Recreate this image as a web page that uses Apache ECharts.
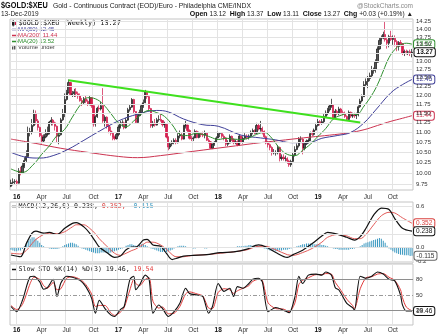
<!DOCTYPE html>
<html>
<head>
<meta charset="utf-8">
<title>$GOLD:$XEU weekly</title>
<script src="https://cdn.jsdelivr.net/npm/echarts@6.0.0/dist/echarts.min.js"></script>
<style>
  html, body { margin: 0; padding: 0; background: #fff; }
  #chart { width: 443px; height: 336px; }
</style>
</head>
<body>
<div id="chart"></div>
<script>
// Weekly bars of $GOLD:$XEU, each week ending on a Friday.
const firstWeek = '2015-12-11';
const weekCount = 210;

// Quarter marks on the time axis (week index -> label).
const tickWeeks  = [3, 16, 29, 43, 56, 69, 82, 95, 108, 121, 134, 147, 160, 173, 186, 199];
const tickLabels = ['16', 'Apr', 'Jul', 'Oct', '17', 'Apr', 'Jul', 'Oct', '18', 'Apr', 'Jul', 'Oct', '19', 'Apr', 'Jul', 'Oct'];

const opens = [
  9.70, 9.78, 9.80, 9.81, 9.77, 10.05, 10.00, 10.17, 10.30, 10.40,
  11.00, 11.02, 11.18, 11.50, 11.30, 11.13, 10.92, 10.78, 10.88, 10.95,
  10.97, 11.27, 11.32, 11.25, 11.16, 10.90, 10.94, 11.33, 11.50, 11.88,
  12.07, 12.36, 12.02, 12.04, 12.10, 12.04, 11.98, 11.85, 11.79, 11.90,
  11.83, 11.74, 11.93, 11.71, 11.22, 11.41, 11.64, 11.62, 11.71, 11.30,
  11.40, 11.17, 11.04, 10.98, 10.88, 10.84, 10.95, 11.14, 11.24, 11.25,
  11.12, 11.32, 11.60, 11.67, 11.88, 11.55, 11.26, 11.44, 11.52, 11.71,
  11.79, 12.10, 11.96, 11.63, 11.17, 11.24, 11.19, 11.33, 11.34, 11.31,
  11.20, 11.21, 10.88, 10.63, 10.71, 10.75, 10.80, 10.74, 10.91, 10.93,
  10.83, 11.17, 11.19, 11.05, 10.85, 10.84, 10.86, 11.03, 10.87, 10.97,
  10.94, 10.93, 10.98, 10.80, 10.76, 10.60, 10.70, 10.75, 10.86, 10.97,
  10.97, 10.90, 10.86, 10.70, 10.73, 10.90, 10.82, 10.74, 10.76, 10.68,
  10.91, 10.75, 10.85, 10.91, 10.87, 10.91, 11.00, 11.05, 10.98, 11.18,
  11.09, 11.10, 11.03, 10.89, 10.73, 10.69, 10.62, 10.49, 10.49, 10.49,
  10.62, 10.35, 10.38, 10.35, 10.35, 10.29, 10.20, 10.28, 10.44, 10.57,
  10.66, 10.83, 10.83, 10.60, 10.71, 10.78, 10.80, 10.97, 10.95, 11.06,
  11.18, 11.28, 11.24, 11.28, 11.42, 11.51, 11.60, 11.70, 11.72, 11.38,
  11.56, 11.49, 11.62, 11.52, 11.50, 11.42, 11.34, 11.53, 11.43, 11.45,
  11.44, 11.46, 11.68, 11.84, 11.96, 12.30, 12.39, 12.48, 12.56, 12.71,
  12.75, 12.96, 13.37, 13.64, 13.71, 13.83, 13.66, 13.55, 13.76, 13.67,
  13.71, 13.60, 13.45, 13.57, 13.53, 13.24, 13.29, 13.27, 13.28, 13.24
];
const closes = [
  9.78, 9.80, 9.81, 9.77, 10.05, 10.00, 10.17, 10.30, 10.40, 11.00,
  11.02, 11.18, 11.50, 11.30, 11.13, 10.92, 10.78, 10.88, 10.95, 10.97,
  11.27, 11.32, 11.25, 11.16, 10.90, 10.94, 11.33, 11.50, 11.88, 12.07,
  12.36, 12.02, 12.04, 12.10, 12.04, 11.98, 11.85, 11.79, 11.90, 11.83,
  11.74, 11.93, 11.71, 11.22, 11.41, 11.64, 11.62, 11.71, 11.30, 11.40,
  11.17, 11.04, 10.98, 10.88, 10.84, 10.95, 11.14, 11.24, 11.25, 11.12,
  11.32, 11.60, 11.67, 11.88, 11.55, 11.26, 11.44, 11.52, 11.71, 11.79,
  12.10, 11.96, 11.63, 11.17, 11.24, 11.19, 11.33, 11.34, 11.31, 11.20,
  11.21, 10.88, 10.63, 10.71, 10.75, 10.80, 10.74, 10.91, 10.93, 10.83,
  11.17, 11.19, 11.05, 10.85, 10.84, 10.86, 11.03, 10.87, 10.97, 10.94,
  10.93, 10.98, 10.80, 10.76, 10.60, 10.70, 10.75, 10.86, 10.97, 10.97,
  10.90, 10.86, 10.70, 10.73, 10.90, 10.82, 10.74, 10.76, 10.68, 10.91,
  10.75, 10.85, 10.91, 10.87, 10.91, 11.00, 11.05, 10.98, 11.18, 11.09,
  11.10, 11.03, 10.89, 10.73, 10.69, 10.62, 10.49, 10.49, 10.49, 10.62,
  10.35, 10.38, 10.35, 10.35, 10.29, 10.20, 10.28, 10.44, 10.57, 10.66,
  10.83, 10.83, 10.60, 10.71, 10.78, 10.80, 10.97, 10.95, 11.06, 11.18,
  11.28, 11.24, 11.28, 11.42, 11.51, 11.60, 11.70, 11.72, 11.38, 11.56,
  11.49, 11.62, 11.52, 11.50, 11.42, 11.34, 11.53, 11.43, 11.45, 11.44,
  11.46, 11.68, 11.84, 11.96, 12.30, 12.39, 12.48, 12.56, 12.71, 12.75,
  12.96, 13.37, 13.64, 13.71, 13.83, 13.66, 13.55, 13.76, 13.67, 13.71,
  13.60, 13.45, 13.57, 13.53, 13.24, 13.29, 13.27, 13.28, 13.24, 13.27
];
const highs = [
  9.85, 9.88, 9.86, 9.85, 10.12, 10.15, 10.25, 10.38, 10.55, 11.15,
  11.12, 11.35, 11.60, 11.58, 11.35, 11.15, 10.98, 10.95, 11.08, 11.15,
  11.30, 11.40, 11.35, 11.28, 11.18, 11.00, 11.38, 11.62, 12.05, 12.15,
  12.45, 12.38, 12.12, 12.18, 12.20, 12.10, 12.05, 11.92, 11.95, 11.98,
  11.88, 11.98, 11.95, 11.72, 11.45, 11.68, 11.72, 11.82, 12.20, 11.45,
  11.42, 11.25, 11.15, 11.02, 10.92, 11.00, 11.20, 11.30, 11.32, 11.28,
  11.38, 11.65, 11.75, 11.92, 11.90, 11.56, 11.50, 11.60, 11.76, 11.88,
  12.15, 12.12, 11.98, 11.65, 11.30, 11.35, 11.38, 11.45, 11.48, 11.32,
  11.28, 11.22, 10.90, 10.75, 10.80, 10.85, 10.85, 10.98, 11.05, 10.98,
  11.20, 11.30, 11.20, 11.08, 10.92, 10.90, 11.08, 11.05, 11.02, 11.00,
  11.02, 11.05, 10.98, 10.85, 10.78, 10.72, 10.78, 10.90, 11.02, 11.00,
  11.00, 10.95, 10.88, 10.80, 10.95, 10.92, 10.85, 10.82, 10.80, 10.95,
  10.92, 10.90, 10.98, 10.95, 10.95, 11.05, 11.10, 11.08, 11.25, 11.22,
  11.30, 11.15, 11.05, 10.92, 10.78, 10.72, 10.65, 10.58, 10.55, 10.68,
  10.64, 10.45, 10.45, 10.42, 10.38, 10.32, 10.32, 10.50, 10.65, 10.72,
  10.88, 10.90, 10.85, 10.75, 10.82, 10.85, 11.02, 11.05, 11.10, 11.25,
  11.35, 11.32, 11.35, 11.48, 11.58, 11.65, 11.75, 11.90, 11.75, 11.62,
  11.60, 11.68, 11.65, 11.58, 11.55, 11.45, 11.58, 11.55, 11.52, 11.52,
  11.52, 11.72, 11.90, 12.02, 12.40, 12.48, 12.55, 12.65, 12.85, 12.80,
  13.05, 13.45, 13.72, 13.80, 13.92, 14.25, 13.75, 13.82, 13.95, 13.80,
  13.80, 13.65, 13.62, 13.65, 13.55, 13.35, 13.35, 13.32, 13.35, 13.37
];
const lows = [
  9.68, 9.72, 9.75, 9.72, 9.76, 9.95, 9.98, 10.12, 10.25, 10.38,
  10.90, 10.95, 11.15, 11.20, 11.05, 10.88, 10.72, 10.75, 10.85, 10.90,
  10.95, 11.18, 11.18, 11.05, 10.75, 10.70, 10.92, 11.30, 11.40, 11.85,
  12.05, 11.98, 11.95, 11.95, 11.95, 11.90, 11.82, 11.70, 11.75, 11.78,
  11.70, 11.72, 11.65, 11.15, 11.15, 11.38, 11.55, 11.58, 11.25, 11.15,
  11.10, 10.98, 10.92, 10.80, 10.80, 10.82, 10.90, 11.10, 11.15, 11.08,
  11.10, 11.30, 11.55, 11.65, 11.50, 11.22, 11.25, 11.42, 11.50, 11.65,
  11.78, 11.90, 11.58, 11.12, 11.12, 11.15, 11.18, 11.28, 11.28, 11.15,
  11.12, 10.85, 10.55, 10.58, 10.65, 10.70, 10.70, 10.72, 10.85, 10.80,
  10.82, 11.10, 11.00, 10.82, 10.78, 10.78, 10.85, 10.85, 10.85, 10.88,
  10.88, 10.85, 10.78, 10.72, 10.58, 10.58, 10.66, 10.74, 10.85, 10.88,
  10.85, 10.80, 10.65, 10.65, 10.72, 10.78, 10.70, 10.70, 10.65, 10.66,
  10.72, 10.72, 10.82, 10.82, 10.82, 10.88, 10.95, 10.95, 10.96, 11.05,
  11.02, 10.95, 10.85, 10.70, 10.62, 10.55, 10.42, 10.45, 10.42, 10.45,
  10.28, 10.30, 10.30, 10.28, 10.22, 10.15, 10.15, 10.25, 10.40, 10.55,
  10.62, 10.75, 10.45, 10.55, 10.68, 10.72, 10.78, 10.90, 10.92, 11.05,
  11.15, 11.18, 11.20, 11.22, 11.40, 11.45, 11.55, 11.65, 11.35, 11.35,
  11.45, 11.45, 11.48, 11.45, 11.38, 11.30, 11.32, 11.38, 11.38, 11.38,
  11.35, 11.42, 11.65, 11.80, 11.95, 12.25, 12.20, 12.40, 12.50, 12.62,
  12.65, 12.95, 13.35, 13.52, 13.68, 13.60, 13.38, 13.42, 13.62, 13.50,
  13.45, 13.30, 13.32, 13.45, 13.18, 13.15, 13.20, 13.18, 13.15, 13.11
];

const priceTicks = [9.75, 10.00, 10.25, 10.50, 10.75, 11.00, 11.25, 11.50, 11.75, 12.00,
                    12.25, 12.50, 12.75, 13.00, 13.25, 13.50, 13.75, 14.00, 14.25];

// Moving averages as [week index, value].
const ma20 = [[0,10.10],[6,10.02],[12,10.22],[16,10.45],[20,10.66],[24,10.92],[28,11.08],[32,11.40],
  [36,11.72],[40,11.93],[44,11.90],[48,11.75],[52,11.50],[56,11.25],[60,11.15],[64,11.30],[68,11.48],
  [72,11.58],[76,11.52],[80,11.42],[84,11.20],[88,10.95],[92,10.92],[96,10.97],[100,10.95],[104,10.88],
  [108,10.82],[112,10.85],[116,10.83],[120,10.82],[124,10.86],[128,10.95],[132,11.00],[136,10.85],
  [140,10.60],[144,10.45],[148,10.42],[152,10.55],[156,10.70],[160,10.90],[164,11.10],[168,11.35],
  [172,11.45],[176,11.50],[180,11.47],[184,11.70],[188,12.00],[191,12.30],[194,12.70],[197,13.10],
  [200,13.35],[203,13.50],[206,13.55],[209,13.52]];
const ma50 = [[0,10.50],[8,10.38],[15,10.36],[22,10.42],[30,10.58],[38,10.80],[46,11.03],[56,11.30],
  [66,11.48],[76,11.58],[82,11.54],[90,11.35],[100,11.20],[108,11.16],[120,10.93],[130,10.86],
  [138,10.81],[146,10.74],[155,10.74],[162,10.85],[170,10.92],[177,11.00],[184,11.25],[190,11.59],
  [198,12.07],[204,12.30],[209,12.45]];
const ma200 = [[0,10.83],[13,10.72],[26,10.60],[40,10.50],[56,10.40],[66,10.37],[78,10.42],[91,10.50],
  [104,10.58],[117,10.66],[130,10.74],[143,10.81],[156,10.88],[166,10.93],[176,10.99],[184,11.07],
  [191,11.18],[198,11.29],[204,11.37],[209,11.44]];

// Falling resistance line from the July 2016 high.
const trendLine = [[30, 12.43], [182, 11.26]];

// MACD(12,26,9)
const macdLine = [[0,-0.105],[5,-0.13],[8,0.06],[11,0.21],[13,0.24],[17,0.21],[20,0.22],[24,0.19],
  [28,0.28],[32,0.35],[34,0.36],[38,0.30],[41,0.21],[44,0.09],[46,0.01],[50,-0.07],[54,-0.14],
  [57,-0.12],[60,-0.03],[63,0.01],[65,0.01],[69,0.11],[71,0.12],[74,0.04],[78,0.02],[81,-0.08],
  [84,-0.17],[86,-0.155],[90,-0.12],[95,-0.11],[102,-0.10],[109,-0.07],[116,-0.06],[123,-0.02],
  [129,0.04],[133,0.01],[138,-0.07],[144,-0.14],[147,-0.10],[152,-0.035],[157,0.06],[162,0.17],
  [165,0.22],[170,0.195],[175,0.15],[179,0.11],[182,0.16],[185,0.28],[189,0.47],[193,0.57],
  [197,0.55],[200,0.42],[204,0.28],[209,0.238]];
const macdSignal = [[0,-0.08],[5,-0.09],[8,-0.04],[11,0.06],[13,0.12],[17,0.19],[20,0.21],[24,0.20],
  [28,0.23],[32,0.30],[34,0.33],[38,0.33],[41,0.28],[44,0.20],[46,0.13],[50,0.02],[54,-0.08],
  [57,-0.11],[60,-0.08],[63,-0.04],[65,-0.02],[69,0.05],[71,0.08],[74,0.08],[78,0.04],[81,-0.02],
  [84,-0.10],[86,-0.13],[90,-0.13],[95,-0.11],[102,-0.10],[109,-0.08],[116,-0.06],[123,-0.03],
  [129,0.02],[133,0.02],[138,-0.03],[144,-0.10],[147,-0.11],[152,-0.07],[157,-0.01],[162,0.08],
  [165,0.15],[170,0.19],[175,0.17],[179,0.13],[182,0.13],[185,0.19],[189,0.33],[193,0.46],
  [197,0.51],[200,0.50],[204,0.43],[209,0.352]];
const macdHist = [
  -0.03, -0.04, -0.05, -0.05, -0.04, -0.04, -0.02,
  0.02, 0.06, 0.10, 0.13, 0.15, 0.15, 0.13, 0.10, 0.07, 0.04, 0.02,
  0.01, 0.00, -0.01, -0.02, -0.02, -0.02, -0.02, -0.01, 0.00,
  0.02, 0.04, 0.05, 0.06, 0.07, 0.07, 0.06, 0.05, 0.03, 0.01,
  -0.01, -0.02, -0.03, -0.04, -0.05, -0.06, -0.07, -0.08, -0.08, -0.08, -0.07,
  -0.07, -0.07, -0.08, -0.08, -0.07, -0.06, -0.05, -0.04, -0.03, -0.02, -0.01,
  0.01, 0.03, 0.04, 0.05, 0.05, 0.04, 0.03, 0.03, 0.04, 0.05, 0.05, 0.04, 0.02, 0.01,
  -0.01, -0.02, -0.03, -0.04, -0.05, -0.06, -0.06, -0.06, -0.06, -0.05, -0.04, -0.03, -0.01,
  0.01, 0.02, 0.03, 0.03, 0.03, 0.02, 0.01, 0.01,
  0.00, -0.01, -0.01, 0.00, 0.00, 0.01, 0.00, -0.01, -0.01, 0.00,
  0.01, 0.01, 0.00, 0.00, 0.01, 0.00, 0.00, 0.01, 0.01, 0.00,
  0.00, 0.01, 0.01, 0.01, 0.02, 0.02, 0.02,
  0.02, 0.03, 0.03, 0.04, 0.04, 0.03, 0.03, 0.02, 0.02, 0.01, 0.00,
  -0.01, -0.02, -0.03, -0.04, -0.04, -0.04, -0.05, -0.04, -0.04, -0.04, -0.03, -0.03, -0.03, -0.02, -0.01, 0.00,
  0.01, 0.02, 0.03, 0.04, 0.05, 0.05, 0.06, 0.06, 0.06, 0.06, 0.05, 0.05, 0.05, 0.05, 0.04, 0.04, 0.03, 0.02, 0.01, 0.00,
  -0.01, -0.02, -0.02, -0.03, -0.03, -0.03, -0.03, -0.03, -0.03, -0.02, -0.02, -0.01, 0.00,
  0.01, 0.02, 0.04, 0.06, 0.07, 0.08, 0.09, 0.10, 0.11, 0.12, 0.13, 0.14, 0.13, 0.10, 0.07, 0.03,
  -0.01, -0.03, -0.05, -0.07, -0.08, -0.09, -0.10, -0.10, -0.11, -0.11, -0.11, -0.12, -0.115
];
const macdTicks = [-0.2, 0, 0.2, 0.4, 0.6];
const macdLabelled = [-0.2, 0, 0.6];

// Slow stochastic %K(14) %D(3)
const stoK = [[0,28],[3,18],[6,40],[10,85],[12,86],[15,75],[17,61],[19,64],[22,80],[24,47],[26,73],
  [29,86],[32,84],[36,78],[39,66],[42,44],[44,15],[46,40],[49,24],[52,12],[54,9],[57,22],[59,28],
  [62,80],[64,86],[65,60],[67,69],[70,88],[72,80],[74,15],[77,31],[79,24],[82,9],[85,18],[88,34],
  [91,63],[93,53],[97,50],[100,47],[103,15],[105,28],[108,72],[111,57],[114,63],[116,47],[118,66],
  [121,63],[124,72],[126,80],[129,82],[131,75],[134,18],[138,26],[142,21],[145,16],[148,47],[150,86],
  [152,72],[155,88],[159,90],[162,88],[164,94],[167,88],[169,64],[171,59],[175,34],[178,26],[179,21],
  [182,86],[185,82],[188,86],[191,94],[194,90],[197,80],[200,77],[203,50],[204,31],[206,19.5],[209,19.46]];
const stoD = [[0,30],[3,22],[6,32],[10,72],[12,84],[15,80],[17,68],[19,63],[22,74],[24,60],[26,62],
  [29,82],[32,85],[36,80],[39,70],[42,52],[44,28],[46,30],[49,30],[52,16],[54,11],[57,17],[59,26],
  [62,60],[64,80],[65,72],[67,68],[70,80],[72,83],[74,38],[77,25],[79,27],[82,14],[85,15],[88,28],
  [91,52],[93,56],[97,52],[100,48],[103,25],[105,24],[108,55],[111,62],[114,60],[116,53],[118,58],
  [121,63],[124,68],[126,76],[129,80],[131,78],[134,35],[138,24],[142,23],[145,18],[148,35],[150,70],
  [152,78],[155,83],[159,89],[162,89],[164,91],[167,90],[169,74],[171,64],[175,42],[178,30],[179,24],
  [182,62],[185,83],[188,85],[191,90],[194,91],[197,84],[200,78],[203,60],[204,45],[206,27],[209,19.54]];
const stoLevels = [80, 50, 20];

// ---------------------------------------------------------------------------
const SANS = '"Liberation Sans", Arial, sans-serif';
const MONO = '"DejaVu Sans Mono", "Liberation Mono", monospace';
const C_MA20 = '#2f8f2f', C_MA50 = '#3f3f98', C_MA200 = '#cc3350';
const C_UP = '#555', C_UP_EDGE = '#111', C_DOWN = '#dc1e4e';
const C_GRID = '#e3e3e3';

const weeks = [];
{
  const t0 = Date.parse(firstWeek + 'T00:00:00Z');
  for (let i = 0; i < weekCount; i++) {
    weeks.push(new Date(t0 + i * 7 * 86400000).toISOString().slice(0, 10));
  }
}
const quarterAt = new Map(tickWeeks.map((w, k) => [w, k]));
const isQuarter = (i) => quarterAt.has(i);
function quarterText(value, i) {
  const k = quarterAt.get(i);
  if (k === undefined) return '';
  const t = tickLabels[k];
  return /^\d+$/.test(t) ? '{yr|' + t + '}' : t;
}
function xAxisFor(gridIndex, withLabels, margin) {
  return {
    type: 'category', gridIndex, data: weeks, boundaryGap: true,
    axisLine: { show: false }, axisTick: { show: false },
    axisLabel: {
      show: withLabels, interval: isQuarter, formatter: quarterText, margin,
      fontSize: 6.5, fontFamily: SANS, color: '#333',
      rich: { yr: { fontWeight: 'bold', fontSize: 6.5, fontFamily: SANS, color: '#111' } }
    },
    splitLine: { show: true, interval: isQuarter, lineStyle: { color: C_GRID, width: 1 } }
  };
}
function hiddenY(gridIndex, extra) {
  return Object.assign({
    gridIndex, position: 'right', scale: true,
    axisLine: { show: false }, axisTick: { show: false },
    axisLabel: { show: false }, splitLine: { show: false }
  }, extra);
}
function tag(color, bold) {
  return {
    show: true, distance: 2, fontSize: 6.5, fontFamily: SANS,
    fontWeight: bold ? 'bold' : 'normal', color: bold ? '#111' : color,
    backgroundColor: '#fff', borderColor: color, borderWidth: 1, borderRadius: 2,
    padding: [1, 2, 0, 2]
  };
}
function gridLines(xi, yi, values, lineStyleFor, labelFor) {
  return {
    type: 'line', xAxisIndex: xi, yAxisIndex: yi, data: [], z: 1, silent: true,
    markLine: {
      silent: true, symbol: ['none', 'none'], animation: false,
      label: { show: true, position: 'end', distance: 3, fontSize: 6, fontFamily: SANS, color: '#333',
               formatter: (p) => labelFor(p.value) },
      emphasis: { disabled: true },
      data: values.map((v) => ({ yAxis: v, lineStyle: lineStyleFor(v) }))
    }
  };
}

const candles = closes.map((c, i) => [opens[i], c, lows[i], highs[i]]);
const last = weekCount - 1;

const option = {
  animation: false,
  backgroundColor: '#fff',
  textStyle: { fontFamily: SANS },
  grid: [
    { left: 10, top: 19, width: 403, height: 171, show: true, borderColor: '#c4c4c4', borderWidth: 1 },
    { left: 10, top: 202, width: 403, height: 61, show: true, borderColor: '#c4c4c4', borderWidth: 1 },
    { left: 10, top: 264, width: 403, height: 61, show: true, borderColor: '#c4c4c4', borderWidth: 1 }
  ],
  xAxis: [xAxisFor(0, true, 4), xAxisFor(1, false, 2), xAxisFor(2, true, 2)],
  yAxis: [
    hiddenY(0, { type: 'log', logBase: 10, min: 9.615, max: 14.34 }),
    hiddenY(1, { type: 'value', min: -0.22, max: 0.658 }),
    hiddenY(2, { type: 'value', min: -7.4, max: 109.3 })
  ],
  series: [
    // price panel
    gridLines(0, 0, priceTicks, () => ({ color: C_GRID, type: 'solid', width: 1 }), (v) => v.toFixed(2)),
    {
      type: 'candlestick', name: '$GOLD:$XEU', xAxisIndex: 0, yAxisIndex: 0, z: 3,
      barWidth: 1.7, data: candles,
      itemStyle: { color: C_UP, color0: C_DOWN, borderColor: C_UP_EDGE, borderColor0: '#cf1446', borderWidth: 0.7 },
      markPoint: {
        symbol: 'rect', symbolSize: 1, itemStyle: { color: 'rgba(0,0,0,0)' }, animation: false,
        label: Object.assign(tag('#111', true), { position: 'right', formatter: (p) => p.value.toFixed(2) }),
        data: [{ coord: [last, closes[last]], value: closes[last] }]
      }
    },
    {
      type: 'line', name: 'MA(200)', xAxisIndex: 0, yAxisIndex: 0, z: 4, data: ma200,
      showSymbol: false, smooth: 0.4, lineStyle: { color: C_MA200, width: 1 },
      endLabel: Object.assign(tag(C_MA200), { formatter: (p) => p.value[1].toFixed(2) })
    },
    {
      type: 'line', name: 'MA(50)', xAxisIndex: 0, yAxisIndex: 0, z: 4, data: ma50,
      showSymbol: false, smooth: 0.4, lineStyle: { color: C_MA50, width: 1 },
      endLabel: Object.assign(tag(C_MA50), { formatter: (p) => p.value[1].toFixed(2) })
    },
    {
      type: 'line', name: 'MA(20)', xAxisIndex: 0, yAxisIndex: 0, z: 4, data: ma20,
      showSymbol: false, smooth: 0.4, lineStyle: { color: C_MA20, width: 1 },
      endLabel: Object.assign(tag(C_MA20), { formatter: (p) => p.value[1].toFixed(2) })
    },
    {
      type: 'line', name: 'trend', xAxisIndex: 0, yAxisIndex: 0, z: 5, data: trendLine,
      showSymbol: false, lineStyle: { color: '#3fe01e', width: 2 }
    },

    // MACD panel
    gridLines(1, 1, macdTicks, () => ({ color: C_GRID, type: 'solid', width: 1 }),
      (v) => (macdLabelled.some((m) => Math.abs(m - v) < 1e-9) ? v.toFixed(1) : '')),
    {
      type: 'bar', name: 'Histogram', xAxisIndex: 1, yAxisIndex: 1, z: 2, data: macdHist,
      barWidth: 1, itemStyle: { color: '#3a98c0' },
      markPoint: {
        symbol: 'rect', symbolSize: 1, itemStyle: { color: 'rgba(0,0,0,0)' }, animation: false,
        label: Object.assign(tag('#666'), { position: 'right', color: '#333', formatter: (p) => p.value.toFixed(3) }),
        data: [{ coord: [last, macdHist[last]], value: macdHist[last] }]
      }
    },
    {
      type: 'line', name: 'Signal', xAxisIndex: 1, yAxisIndex: 1, z: 3, data: macdSignal,
      showSymbol: false, smooth: 0.3, lineStyle: { color: '#e25a58', width: 1 },
      endLabel: Object.assign(tag('#d9403e'), { formatter: (p) => p.value[1].toFixed(3) })
    },
    {
      type: 'line', name: 'MACD', xAxisIndex: 1, yAxisIndex: 1, z: 4, data: macdLine,
      showSymbol: false, smooth: 0.3, lineStyle: { color: '#111', width: 1.2 },
      endLabel: Object.assign(tag('#111'), { color: '#111', formatter: (p) => p.value[1].toFixed(3) })
    },

    // Slow stochastic panel
    gridLines(2, 2, stoLevels, (v) => (v === 50
      ? { color: '#9a9a9a', type: [4, 2, 1, 2], width: 1 }
      : { color: '#8e8e8e', type: 'solid', width: 1 }), (v) => String(v)),
    {
      type: 'line', name: '%D', xAxisIndex: 2, yAxisIndex: 2, z: 3, data: stoD,
      showSymbol: false, smooth: 0.25, lineStyle: { color: '#e23c3c', width: 1 }
    },
    {
      type: 'line', name: '%K', xAxisIndex: 2, yAxisIndex: 2, z: 4, data: stoK,
      showSymbol: false, smooth: 0.25, lineStyle: { color: '#111', width: 1.1 },
      endLabel: Object.assign(tag('#111'), { color: '#111', formatter: (p) => p.value[1].toFixed(2) })
    }
  ],
  graphic: [
    // header
    { type: 'text', x: 1, y: 5.5, scaleX: 0.86, style: { text: '$GOLD:$XEU', font: 'bold 8.5px ' + SANS, fill: '#111', verticalAlign: 'middle' } },
    { type: 'text', x: 53, y: 6, style: { text: 'Gold - Continuous Contract (EOD)/Euro - Philadelphia CME/INDX', font: '6.8px ' + SANS, fill: '#222', verticalAlign: 'middle' } },
    { type: 'text', x: 413, y: 6, style: { text: '@StockCharts.com', font: '6.5px ' + SANS, fill: '#888', align: 'right', verticalAlign: 'middle' } },
    { type: 'text', x: 1, y: 14.5, style: { text: '13-Dec-2019', font: '6.5px ' + SANS, fill: '#222', verticalAlign: 'middle' } },
    { type: 'text', x: 413, y: 14.5, style: {
        text: '{b|Open} 13.12  {b|High} 13.37  {b|Low} 13.11  {b|Close} 13.27  {b|Chg} +0.03 (+0.19%) \u25B2',
        font: '6.6px ' + SANS, fill: '#222', align: 'right', verticalAlign: 'middle',
        rich: { b: { font: 'bold 7px ' + SANS, fill: '#111' } } } },

    // price panel legend
    { type: 'rect', shape: { x: 12, y: 21, width: 2.5, height: 4.5 }, style: { fill: '#222' } },
    { type: 'line', shape: { x1: 13.25, y1: 20, x2: 13.25, y2: 26.5 }, style: { stroke: '#222', lineWidth: 0.8 } },
    { type: 'rect', shape: { x: 15, y: 22, width: 2, height: 3 }, style: { fill: '#d01445' } },
    { type: 'text', x: 18.5, y: 23.5, style: { text: '$GOLD:$XEU (Weekly) 13.27', font: '6.8px ' + MONO, fill: '#111', verticalAlign: 'middle' } },
    { type: 'line', shape: { x1: 12, y1: 29.5, x2: 17.5, y2: 29.5 }, style: { stroke: C_MA50, lineWidth: 1.5 } },
    { type: 'text', x: 18, y: 29.5, style: { text: 'MA(50) 12.45', font: '6px ' + SANS, fill: C_MA50, verticalAlign: 'middle' } },
    { type: 'line', shape: { x1: 12, y1: 35.5, x2: 17.5, y2: 35.5 }, style: { stroke: C_MA200, lineWidth: 1.5 } },
    { type: 'text', x: 18, y: 35.5, style: { text: 'MA(200) 11.44', font: '6px ' + SANS, fill: C_MA200, verticalAlign: 'middle' } },
    { type: 'line', shape: { x1: 12, y1: 41.5, x2: 17.5, y2: 41.5 }, style: { stroke: C_MA20, lineWidth: 1.5 } },
    { type: 'text', x: 18, y: 41.5, style: { text: 'MA(20) 13.52', font: '6px ' + SANS, fill: C_MA20, verticalAlign: 'middle' } },
    { type: 'rect', shape: { x: 12, y: 46.5, width: 1.2, height: 3 }, style: { fill: '#555' } },
    { type: 'rect', shape: { x: 13.8, y: 45, width: 1.2, height: 4.5 }, style: { fill: '#555' } },
    { type: 'rect', shape: { x: 15.6, y: 46, width: 1.2, height: 3.5 }, style: { fill: '#555' } },
    { type: 'text', x: 18, y: 47.7, style: { text: 'Volume undef', font: '6px ' + SANS, fill: '#444', verticalAlign: 'middle' } },

    // MACD legend
    { type: 'line', shape: { x1: 12, y1: 206.5, x2: 17, y2: 206.5 }, style: { stroke: '#111', lineWidth: 1.5 } },
    { type: 'text', x: 18.5, y: 206.5, style: {
        text: 'MACD(12,26,9) 0.238, {r|0.352,} {c|-0.115}', font: '6.6px ' + MONO, fill: '#222', verticalAlign: 'middle',
        rich: { r: { font: '6.6px ' + MONO, fill: '#d9403e' }, c: { font: '6.6px ' + MONO, fill: '#3a98c0' } } } },

    // stochastic legend
    { type: 'line', shape: { x1: 12, y1: 269.5, x2: 17, y2: 269.5 }, style: { stroke: '#111', lineWidth: 1.5 } },
    { type: 'text', x: 18.5, y: 269.5, style: {
        text: 'Slow STO %K(14) %D(3) 19.46, {r|19.54}', font: '6.6px ' + MONO, fill: '#222', verticalAlign: 'middle',
        rich: { r: { font: '6.6px ' + MONO, fill: '#e23c3c' } } } }
  ]
};

const chart = echarts.init(document.getElementById('chart'), null, { renderer: 'canvas' });
chart.setOption(option);
</script>
</body>
</html>
